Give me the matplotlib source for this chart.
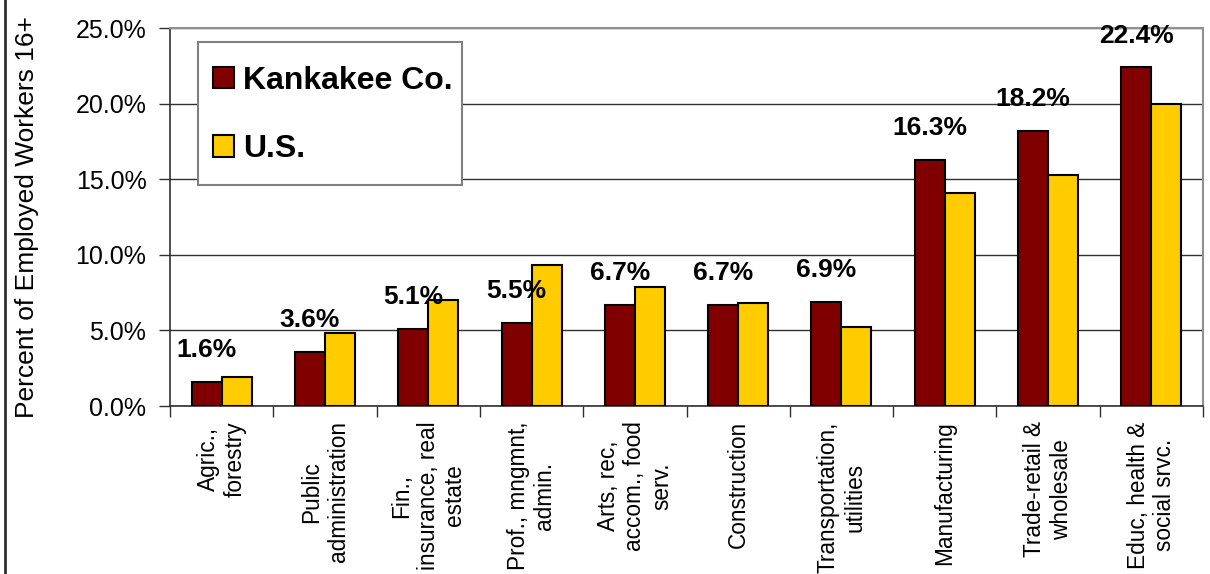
import matplotlib
matplotlib.use("Agg")
import matplotlib.pyplot as plt
import numpy as np
from matplotlib.ticker import FuncFormatter, FixedLocator
from matplotlib.lines import Line2D
from matplotlib.patches import Rectangle

categories = [
    "Agric.,\nforestry",
    "Public\nadministration",
    "Fin.,\ninsurance, real\nestate",
    "Prof., mngmnt,\nadmin.",
    "Arts, rec,\naccom., food\nserv.",
    "Construction",
    "Transportation,\nutilities",
    "Manufacturing",
    "Trade-retail &\nwholesale",
    "Educ, health &\nsocial srvc.",
]
kankakee = [1.6, 3.6, 5.1, 5.5, 6.7, 6.7, 6.9, 16.3, 18.2, 22.4]
us = [1.9, 4.8, 7.0, 9.3, 7.9, 6.8, 5.2, 14.1, 15.3, 20.0]
series_names = ["Kankakee Co.", "U.S."]
yticks = [0, 5, 10, 15, 20, 25]

plt.rcParams['font.family'] = ['Liberation Sans', 'DejaVu Sans']

fig = plt.figure(figsize=(12.1, 5.74), dpi=100)
ax = fig.add_axes([170/1210, 1-406/574, (1203-170)/1210, (406-28)/574])

x = np.arange(len(categories))
w = 0.29
ax.bar(x - w/2, kankakee, w, color='#800000', edgecolor='black', linewidth=1.5,
       label=series_names[0], zorder=3)
ax.bar(x + w/2, us, w, color='#FFCC00', edgecolor='black', linewidth=1.5,
       label=series_names[1], zorder=3)

for xi, v in zip(x, kankakee):
    ax.annotate(f"{v:.1f}%", xy=(xi - w/2, v), xytext=(0, 14), textcoords='offset points',
                ha='center', va='bottom', fontsize=19, fontweight='bold', zorder=4)

ax.set_xlim(-0.5, len(categories) - 0.5)
ax.set_ylim(0, 25)
ax.yaxis.set_major_locator(FixedLocator(yticks))
ax.yaxis.set_major_formatter(FuncFormatter(lambda v, p: f"{v:.1f}%"))
ax.grid(axis='y', color='#303030', linewidth=1.0, zorder=0)
ax.set_axisbelow(True)

ax.set_xticks(x)
ax.set_xticklabels(categories, rotation=90, ha='center', va='top', multialignment='center',
                   fontsize=16.3)
ax.set_xticks(np.arange(-0.5, len(categories), 1), minor=True)
ax.tick_params(axis='x', which='major', length=0, pad=11)
ax.tick_params(axis='x', which='minor', length=8, width=1.0, color='#303030')
ax.tick_params(axis='y', which='major', length=8, width=1.0, color='#303030', labelsize=18, pad=9)

for s in ['left', 'bottom']:
    ax.spines[s].set_color('#303030')
    ax.spines[s].set_linewidth(1.2)
for s in ['top', 'right']:
    ax.spines[s].set_color('#909090')
    ax.spines[s].set_linewidth(1.5)

ax.set_ylabel("Percent of Employed Workers 16+", fontsize=19, va='center')
ax.yaxis.set_label_coords((27-170)/1033, 0.5)

# legend box frame
ax.add_patch(Rectangle(((198-170)/1033, (406-185)/378), (462-198)/1033, (185-42)/378,
                       transform=ax.transAxes, facecolor='white', edgecolor='#808080',
                       linewidth=1.5, zorder=5))
leg = ax.legend(loc='upper left', bbox_to_anchor=((213-170)/1033, (406-66)/378),
                prop={'weight': 'bold', 'size': 23}, frameon=False,
                borderaxespad=0, borderpad=0, labelspacing=1.2,
                handlelength=0.65, handleheight=0.65, handletextpad=0.3)
leg.set_zorder(6)
for h in leg.legend_handles:
    h.set_edgecolor('black')
    h.set_linewidth(1.5)

fig.add_artist(Line2D([5/1210, 5/1210], [0, 1], transform=fig.transFigure,
                      color='#303030', linewidth=2))

fig.savefig("out.png", dpi=100)
